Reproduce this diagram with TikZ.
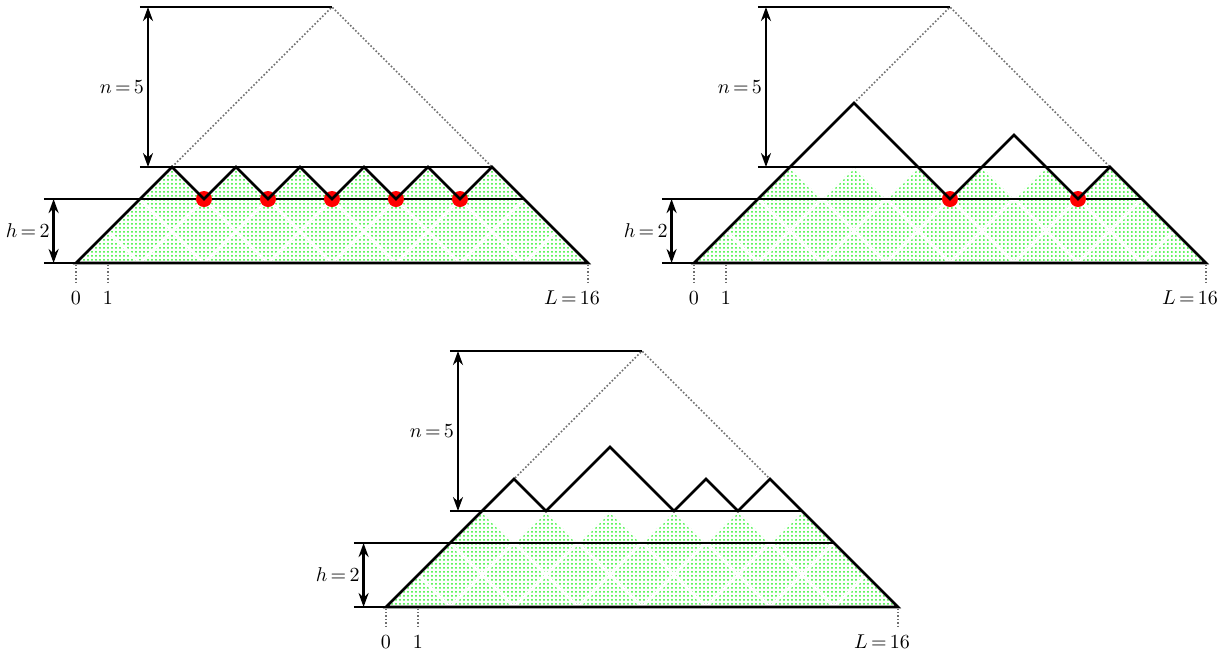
\documentclass[tikz,border=0pt]{standalone}
\usepackage{tikz}
\usetikzlibrary{arrows.meta, patterns.meta}
\definecolor{dotgreen}{RGB}{40, 240, 40}
\definecolor{guidegray}{RGB}{110, 110, 110}

% common frame of one panel: green sites, levels, cone, arrows, ticks
\newcommand{\heightframe}[1]{%
    % Green sites below the first configuration
    \begin{scope}
        \clip (0,0) -- (3,3) -- (4,2) -- (5,3) -- (6,2) -- (7,3) -- (8,2) -- (9,3)
              -- (10,2) -- (11,3) -- (12,2) -- (13,3) -- (16,0) -- cycle;
        \fill[pattern={Dots[distance=2pt, radius=0.5pt]}, pattern color=dotgreen] (0,0) rectangle (16,3);
        \foreach \k in {0,2,...,16} {
            \draw[gap] (\k,0) -- +(3,3);
            \draw[gap] (\k,0) -- +(-3,3);
        }
    \end{scope}

    % Levels
    \draw[level] (-1,0) -- (0,0);
    \draw[level] (-1,2) -- (14,2);
    \draw[level] (2,3) -- (13,3);
    \draw[level] (2,8) -- (8,8);

    % Cone
    \draw[cone] (3,3) -- (8,8) -- (13,3);

    % Arrows h and n
    \coordinate (#1h0) at (-0.7,0);
    \coordinate (#1h2) at (-0.7,2);
    \coordinate (#1n3) at (2.25,3);
    \coordinate (#1n8) at (2.25,8);
    \draw[dimarrow] (#1h0) -- (#1h2);
    \draw[dimarrow] (#1n3) -- (#1n8);
    \node[lbl, left, inner sep=1pt] (#1hlab) at (-0.75,1) {$h\,{=}\,2$};
    \node[lbl, left, inner sep=1pt] (#1nlab) at (2.2,5.5) {$n\,{=}\,5$};

    % Ticks
    \foreach \t in {0,1,16} {
        \coordinate (#1t\t) at (\t,-0.05);
        \coordinate (#1b\t) at (\t,-0.62);
        \draw[tick] (#1t\t) -- (#1b\t);
    }
    \node[lbl, anchor=base] (#1x0) at (0,-1.31) {$0$};
    \node[lbl, anchor=base] (#1x1) at (1,-1.31) {$1$};
    \node[lbl, anchor=base] (#1xL) at (15.5,-1.31) {$L\,{=}\,16$};
}

\begin{document}
\begin{tikzpicture}[x=16pt, y=16pt,
    bound/.style={line width=1.3pt, line join=miter},
    level/.style={line width=0.8pt},
    gap/.style={white, line width=1.3pt},
    dimarrow/.style={line width=1.3pt, {Stealth[length=7pt, width=5pt]}-{Stealth[length=7pt, width=5pt]}},
    cone/.style={guidegray, densely dotted, line width=0.8pt},
    tick/.style={guidegray, densely dotted, line width=0.7pt},
    site/.style={circle, fill=red, inner sep=0pt, minimum size=8pt},
    lbl/.style={font=\normalsize}]

    \useasboundingbox (-2.375,-12.28) rectangle (35.97,8.22);

    % Panel 1: flat configuration
    \begin{scope}
        \heightframe{a}
        \foreach \s in {4,6,...,12} {
            \node[site] (as\s) at (\s,2) {};
        }
        \draw[bound] (0,0) -- (3,3) -- (4,2) -- (5,3) -- (6,2) -- (7,3) -- (8,2) -- (9,3)
              -- (10,2) -- (11,3) -- (12,2) -- (13,3) -- (16,0) -- cycle;
    \end{scope}

    % Panel 2
    \begin{scope}[xshift=19.3125*16pt]
        \heightframe{b}
        \node[site] (bs8) at (8,2) {};
        \node[site] (bs12) at (12,2) {};
        \draw[bound] (0,0) -- (5,5) -- (8,2) -- (10,4) -- (12,2) -- (13,3) -- (16,0) -- cycle;
    \end{scope}

    % Panel 3
    \begin{scope}[xshift=9.6875*16pt, yshift=-10.75*16pt]
        \heightframe{c}
        \draw[bound] (0,0) -- (4,4) -- (5,3) -- (7,5) -- (9,3) -- (10,4) -- (11,3)
              -- (12,4) -- (16,0) -- cycle;
    \end{scope}

\end{tikzpicture}
\end{document}
